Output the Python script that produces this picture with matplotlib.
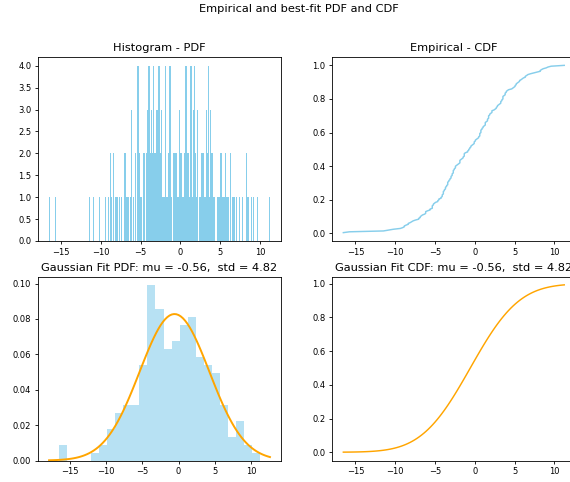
import math
import matplotlib
matplotlib.use('Agg')
import matplotlib.pyplot as plt
import numpy as np

# sample of 200 observations
samples = [
    -16.52, -15.75,
    -11.48,
    -10.90, -10.25,
    -9.35, -9.05, -8.85, -8.85,
    -8.62, -8.35, -8.35, -8.10, -7.92, -7.75,
    -7.45, -7.05, -7.05, -6.85, -6.85, -6.72, -6.58,
    -6.30, -6.17, -6.17, -6.17, -5.92, -5.62, -5.62,
    -5.34, -5.34, -5.34, -5.34, -5.20, -5.20, -5.07, -4.93, -4.65, -4.65, -4.51, -4.51,
    -4.23, -4.23, -4.09, -4.09, -4.09, -3.95, -3.95, -3.95, -3.95, -3.82, -3.82,
    -3.68, -3.68, -3.68, -3.54, -3.54, -3.40, -3.40, -3.40, -3.40, -3.26, -3.26,
    -3.12, -3.12, -2.98, -2.98, -2.98, -2.84, -2.84, -2.84, -2.70, -2.70, -2.70, -2.70,
    -2.57, -2.57, -2.43, -2.43, -2.43, -2.29, -2.15,
    -2.01, -1.87, -1.87, -1.87, -1.87, -1.73, -1.59, -1.46, -1.46,
    -1.32, -1.32, -1.32, -1.32, -1.18,
    -0.90, -0.90, -0.76, -0.76, -0.62, -0.62, -0.48, -0.48, -0.34, -0.21,
    -0.07, -0.07, -0.07, 0.07, 0.07,
    0.21, 0.35, 0.49, 0.49, 0.63, 0.63, 0.63, 0.63, 0.77, 0.77, 0.77, 0.77,
    0.91, 0.91, 1.05, 1.05, 1.18,
    1.32, 1.32, 1.32, 1.32, 1.46, 1.60, 1.60, 1.60, 1.74, 1.74, 1.74, 1.74,
    1.88, 1.88, 2.02, 2.16, 2.16, 2.16,
    2.43, 2.57, 2.71, 2.71, 2.85, 2.85, 2.99, 3.13, 3.27, 3.27, 3.27, 3.41, 3.41,
    3.54, 3.54, 3.54, 3.54, 3.68, 3.82, 3.82, 3.82, 3.96, 3.96, 4.10, 4.24,
    4.65, 4.79, 4.93, 5.07, 5.07, 5.21, 5.21, 5.35, 5.49, 5.63, 5.63,
    5.83, 5.97, 6.11, 6.36, 6.36, 6.53, 6.67,
    7.00, 7.40, 7.80,
    8.24, 8.24, 8.40, 8.60, 8.98,
    9.20, 9.60,
    11.25,
]

# fitted normal parameters
mu = -0.56
std = 4.82

data = np.array(samples)

fs_title = 8.2
fs_tick = 6.0
plt.rcParams.update({
    'xtick.labelsize': fs_tick,
    'ytick.labelsize': fs_tick,
    'xtick.major.size': 2.4,
    'ytick.major.size': 2.4,
    'xtick.major.width': 0.6,
    'ytick.major.width': 0.6,
    'xtick.major.pad': 2.4,
    'ytick.major.pad': 2.4,
    'axes.linewidth': 0.6,
    'axes.titlesize': fs_title,
    'axes.titlepad': 4.2,
})


def norm_pdf(x, m, s):
    return np.exp(-0.5 * ((x - m) / s) ** 2) / (s * np.sqrt(2 * np.pi))


def norm_cdf(x, m, s):
    return np.array([0.5 * (1 + math.erf((v - m) / (s * math.sqrt(2)))) for v in x])


W, H = 570, 482
fig = plt.figure(figsize=(W / 100, H / 100), dpi=100)


def box(x0, y0, w, h):
    return [x0 / W, (H - y0 - h) / H, w / W, h / H]


ax1 = fig.add_axes(box(38, 57, 243, 184))
ax2 = fig.add_axes(box(332.3, 57, 243, 184))
ax3 = fig.add_axes(box(38, 276.5, 243, 184))
ax4 = fig.add_axes(box(332.3, 276.5, 243, 184))

# histogram of raw counts
ax1.hist(data, bins=200, color='skyblue')
ax1.set_title('Histogram - PDF')

# empirical CDF
xs = np.sort(data)
ys = np.arange(1, len(xs) + 1) / len(xs)
ax2.plot(xs, ys, color='skyblue', lw=1.05)
ax2.set_title('Empirical - CDF')

# density histogram with fitted normal curve
ax3.hist(data, bins=25, density=True, color='skyblue', alpha=0.6)
xmin, xmax = ax3.get_xlim()
x = np.linspace(xmin, xmax, 100)
ax3.plot(x, norm_pdf(x, mu, std), color='orange', lw=1.4)
ax3.set_title(f'Gaussian Fit PDF: mu = {mu:.2f},  std = {std:.2f}')

# fitted normal CDF
xc = np.linspace(data.min(), data.max(), 100)
ax4.plot(xc, norm_cdf(xc, mu, std), color='orange', lw=1.05)
ax4.set_xlim(ax2.get_xlim())
ax4.set_title(f'Gaussian Fit CDF: mu = {mu:.2f},  std = {std:.2f}')

fig.suptitle('Empirical and best-fit PDF and CDF', fontsize=fs_title,
             x=298.5 / W, y=1 - 8.5 / H, va='center')

fig.savefig('out.png', dpi=100)
